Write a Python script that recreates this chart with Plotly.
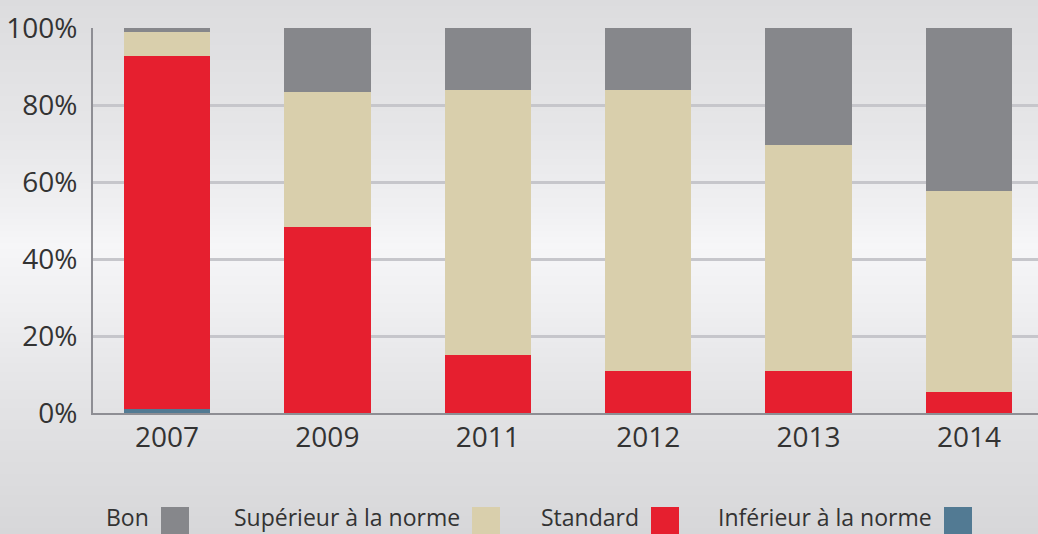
import plotly.graph_objects as go

years = ["2007", "2009", "2011", "2012", "2013", "2014"]
inferieur = [1.0, 0, 0, 0, 0, 0]
standard = [91.7, 48.2, 15.0, 11.0, 11.0, 5.5]
superieur = [6.3, 35.3, 68.8, 72.8, 58.5, 52.1]
bon = [1.0, 16.5, 16.2, 16.2, 30.5, 42.4]

y_tickvals = [0, 20, 40, 60, 80, 100]
y_ticktext = ["0%", "20%", "40%", "60%", "80%", "100%"]

series_names = ["Inférieur à la norme", "Standard", "Supérieur à la norme", "Bon"]
series_values = [inferieur, standard, superieur, bon]
series_colors = ["#527a93", "#e61f2f", "#d9cfac", "#86878b"]

W, H = 1038, 534
L, R, T, B = 93, 0, 28, 121
PW, PH = W - L - R, H - T - B

def px(x):
    return (x - L) / PW

def py(y):
    return (H - B - y) / PH

fig = go.Figure()
for name, vals, col in zip(series_names, series_values, series_colors):
    fig.add_trace(go.Bar(x=years, y=vals, name=name, marker=dict(color=col, line=dict(width=0)),
                         width=0.539, showlegend=False))

# background gradient
stops = [(0, 220), (130, 230), (210, 240), (245, 246), (300, 240), (360, 232), (413, 226), (534, 215)]
def level(y):
    for (y0, v0), (y1, v1) in zip(stops[:-1], stops[1:]):
        if y0 <= y <= y1:
            return v0 + (v1 - v0) * (y - y0) / (y1 - y0)
    return stops[-1][1]

shapes = []
step = 3
for y in range(0, H, step):
    v = round(level(y + step / 2))
    shapes.append(dict(type="rect", xref="paper", yref="paper", x0=px(0), x1=px(W),
                       y0=py(y + step + 0.5), y1=py(y), fillcolor=f"rgb({v},{v},{min(v+2,255)})",
                       line=dict(width=0), layer="below"))

# custom legend (text followed by square)
legend_items = [("Bon", "#86878b", 161), ("Supérieur à la norme", "#d9cfac", 472),
                ("Standard", "#e61f2f", 651), ("Inférieur à la norme", "#527a93", 944)]
annotations = []
for label, col, sx in legend_items:
    shapes.append(dict(type="rect", xref="paper", yref="paper", x0=px(sx), x1=px(sx + 28),
                       y0=py(535), y1=py(507), fillcolor=col, line=dict(width=0), layer="above"))
    annotations.append(dict(text=label, xref="paper", yref="paper", x=px(sx - 11), y=py(533.5),
                            xanchor="right", yanchor="bottom", showarrow=False, borderpad=0,
                            font=dict(family="Open Sans", size=23, color="#333333")))

fig.update_layout(
    width=W, height=H,
    margin=dict(l=L, r=R, t=T, b=B, pad=0),
    paper_bgcolor="#e4e4e6",
    plot_bgcolor="rgba(0,0,0,0)",
    barmode="stack",
    bargap=0,
    shapes=shapes,
    annotations=annotations,
    font=dict(family="Open Sans", color="#333333"),
    xaxis=dict(type="category", range=[-0.461, 5.430], showgrid=False, showline=True,
               linecolor="#8e8e94", linewidth=2, ticks="", tickfont=dict(size=28, color="#333333"),
               ticklabelstandoff=-2, fixedrange=True),
    yaxis=dict(range=[0, 100], tickmode="array", tickvals=y_tickvals, ticktext=y_ticktext,
               showgrid=True, gridcolor="#c6c6cb", gridwidth=2.5, zeroline=False,
               showline=True, linecolor="#8e8e94", linewidth=2, ticks="",
               ticklabelstandoff=8, tickfont=dict(size=28, color="#333333"), fixedrange=True),
)

fig.write_html("out.html")
